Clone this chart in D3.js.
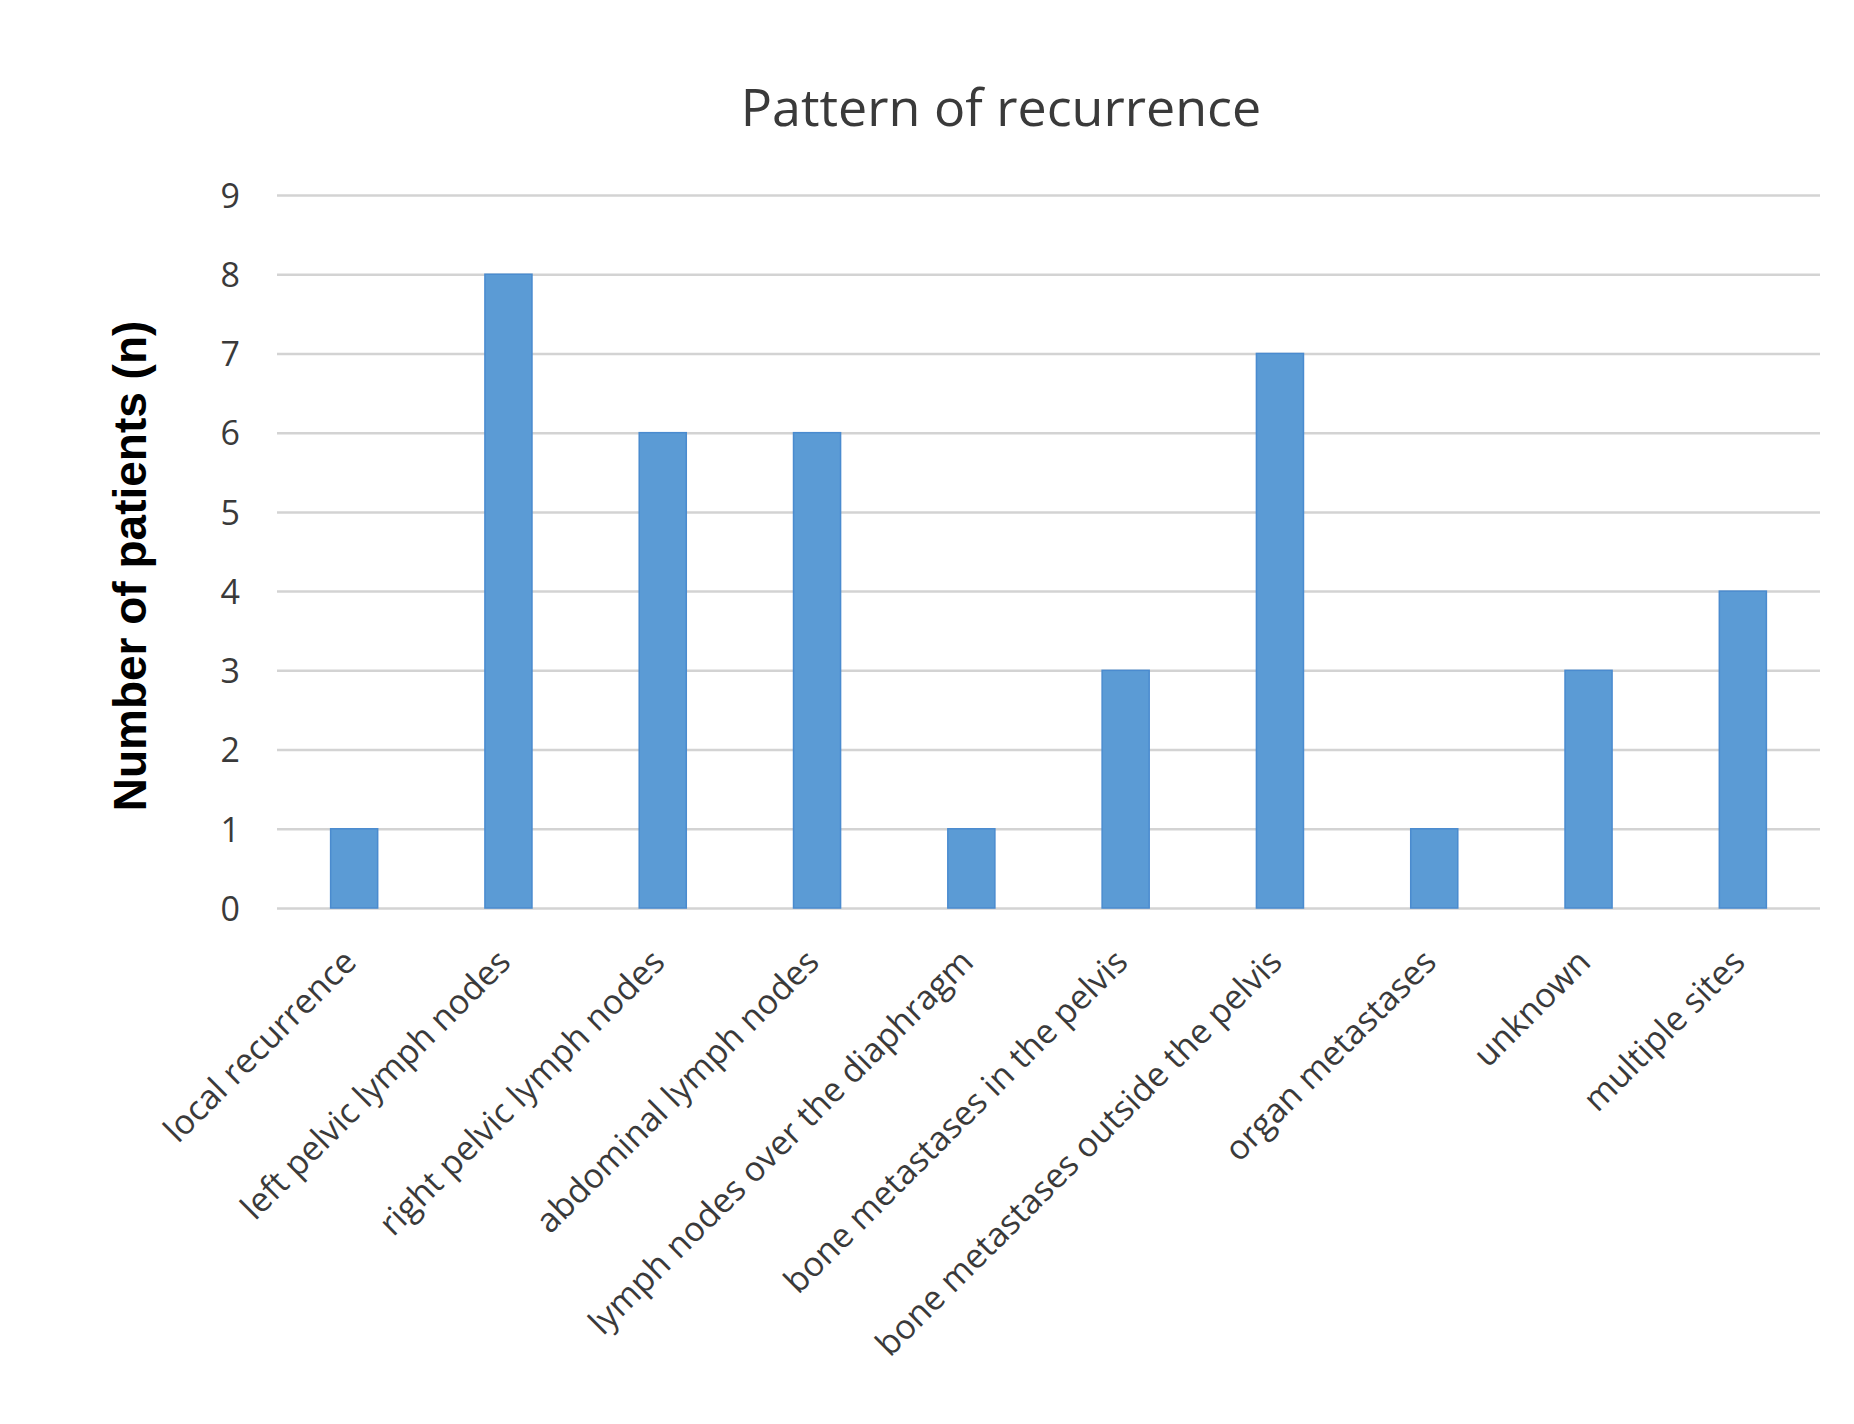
<!DOCTYPE html>
<meta charset="utf-8">
<title>Pattern of recurrence</title>
<body style="margin:0;background:#fff;">
<div id="chart"></div>
<script src="https://d3js.org/d3.v7.min.js"></script>
<script>

  // data
  const categories = [
    "local recurrence",
    "left pelvic lymph nodes",
    "right pelvic lymph nodes",
    "abdominal lymph nodes",
    "lymph nodes over the diaphragm",
    "bone metastases in the pelvis",
    "bone metastases outside the pelvis",
    "organ metastases",
    "unknown",
    "multiple sites"
  ];
  const patients = [1, 8, 6, 6, 1, 3, 7, 1, 3, 4];
  const yTicks = [0, 1, 2, 3, 4, 5, 6, 7, 8, 9];

  const W = 1854, H = 1424;
  const margin = {top: 195, right: 34, bottom: 516, left: 277},
      width = W - margin.left - margin.right,
      height = H - margin.top - margin.bottom;

  const svg = d3.select("#chart")
    .append("svg")
      .attr("width", W)
      .attr("height", H);

  // title
  svg.append("text")
    .attr("x", 1001)
    .attr("y", 126)
    .attr("text-anchor", "middle")
    .style("font-family", "'Open Sans', sans-serif")
    .style("font-size", "52px")
    .style("fill", "#3a3a3a")
    .text("Pattern of recurrence");

  // y axis title
  svg.append("text")
    .attr("transform", "translate(146,566) rotate(-90)")
    .attr("text-anchor", "middle")
    .style("font-family", "'Liberation Sans', Arial, sans-serif")
    .style("font-weight", "bold")
    .style("font-size", "46px")
    .style("fill", "#000")
    .text("Number of patients (n)");

  const g = svg.append("g")
    .attr("transform", `translate(${margin.left},${margin.top})`);

  const x = d3.scaleBand()
    .domain(categories)
    .range([0, width])
    .paddingInner(0.695)
    .paddingOuter(0.3475);

  const y = d3.scaleLinear()
    .domain([0, 9])
    .range([height, 0]);

  // y axis with gridlines
  const yAxis = g.append("g")
    .call(d3.axisLeft(y).tickValues(yTicks).tickFormat(d3.format("d"))
      .tickSize(-width).tickPadding(37));
  yAxis.select(".domain").remove();
  yAxis.selectAll("line")
    .attr("stroke", "#d3d3d3")
    .attr("stroke-width", 2.5);
  yAxis.selectAll("text")
    .attr("dy", "0.36em")
    .style("font-family", "'Open Sans', sans-serif")
    .style("font-size", "34px")
    .style("fill", "#3a3a3a");

  // bars
  g.selectAll("rect.bar")
    .data(patients)
    .join("rect")
      .attr("class", "bar")
      .attr("x", (d, i) => x(categories[i]))
      .attr("y", d => y(d))
      .attr("width", x.bandwidth())
      .attr("height", d => height - y(d))
      .attr("fill", "#5b9bd5")
      .attr("stroke", "#4a8bcf")
      .attr("stroke-width", 1.5);

  // x axis with rotated labels
  const xAxis = g.append("g")
    .attr("transform", `translate(0,${height})`)
    .call(d3.axisBottom(x).tickSize(0));
  xAxis.select(".domain").remove();
  xAxis.selectAll("text")
    .attr("x", 0)
    .attr("y", 0)
    .attr("dy", 0)
    .attr("text-anchor", "end")
    .attr("transform", "translate(4,56) rotate(-45)")
    .style("font-family", "'Open Sans', sans-serif")
    .style("font-size", "34px")
    .style("fill", "#3a3a3a");

</script>
</body>
